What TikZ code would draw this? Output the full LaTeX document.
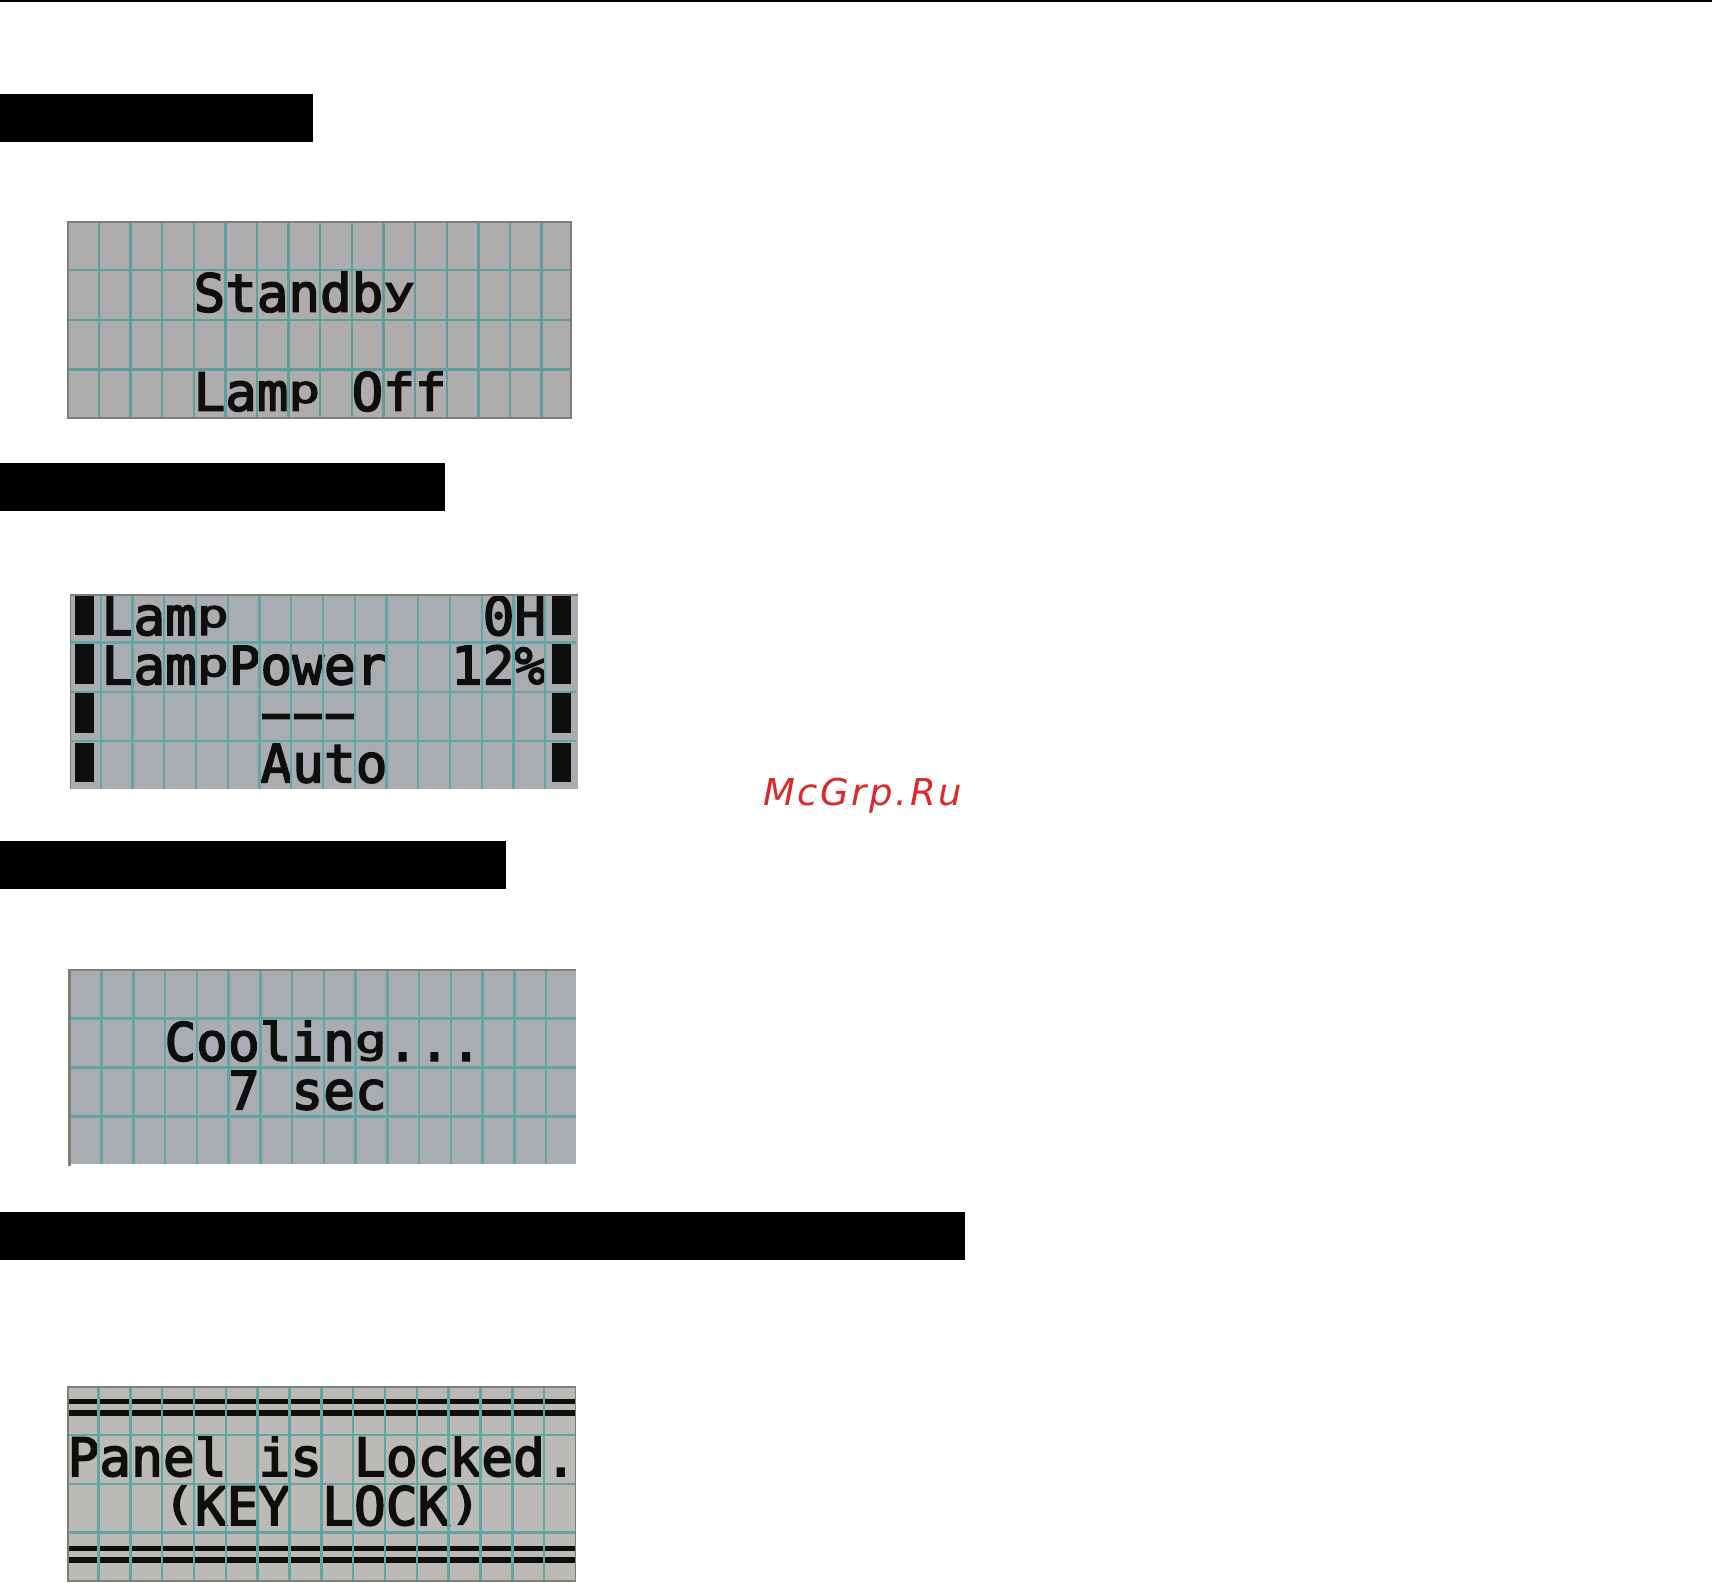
\documentclass[tikz,border=0pt]{standalone}
\usepackage{fontspec}
\usepackage{graphicx}
\newfontfamily\lcdface[FakeBold=3]{DejaVu Sans Mono}
\newfontfamily\markface[LetterSpace=7]{DejaVu Sans Oblique}
\newcommand{\lcdsize}[1]{\lcdface\fontsize{#1pt}{60pt}\selectfont}
% letters that drop below the line sit on it on the display
\newcommand{\dsc}[1]{\raisebox{.15em}{\scalebox{1}[.72]{#1}}}
\newcommand{\prn}[1]{\raisebox{.12em}{\scalebox{1}[.82]{#1}}}
\newcommand{\dashcell}{\makebox[.602em][c]{\scalebox{1.9}[1]{-}}}
\definecolor{teal1}{HTML}{5F9E9B}
\definecolor{teal2}{HTML}{62A6A3}
\definecolor{lcdA}{HTML}{ADADAD}
\definecolor{lcdB}{HTML}{A9ACB1}
\definecolor{lcdC}{HTML}{BBBAB6}
\definecolor{edgeg}{HTML}{7E7E78}
\definecolor{ink}{HTML}{0E0E0C}
\definecolor{markred}{HTML}{D92A2A}
\tikzset{
  bar/.style={fill=black,draw=none},
  gridline/.style={line width=2.4pt,line cap=butt},
  lcd/.style={anchor=base west,inner sep=0pt,outer sep=0pt,text=ink},
  blockcell/.style={fill=ink,draw=none},
  edge/.style={draw=edgeg,line width=1.5pt}
}
\begin{document}
\begin{tikzpicture}[x=1pt,y=-1pt]
\useasboundingbox (0,0) rectangle (1712,1582);
\fill[white] (0,0) rectangle (1712,1582);
% page rule
\fill[bar] (0,0) rectangle (1712,2);
% heading bars
\fill[bar] (0,94) rectangle (313,142);
\fill[bar] (0,463) rectangle (445,511);
\fill[bar] (0,841) rectangle (506,889);
\fill[bar] (0,1211.5) rectangle (965,1259.5);
% ---------- panel 1
\fill[lcdA] (68,222) rectangle (571,418);
\begin{scope}[every node/.style={lcd,font=\lcdsize{52.5}}]
\node (standby) at (193.6,311.7) {Standb\dsc{y}};
\node (lampoff) at (193.6,410.7) {Lam\dsc{p} Off};
\end{scope}
\foreach \i in {1,...,15} \draw[teal1,gridline] ({67.2+\i*31.63},222) -- ({67.2+\i*31.63},418);
\foreach \yy in {270,320,369.5} \draw[teal1,gridline] (68,\yy) -- (571,\yy);
\draw[edge] (68,222) rectangle (571,418);
% ---------- panel 2
\fill[lcdB] (70,595) rectangle (578,789);
\foreach \a/\b in {595.7/635,644.3/684.3,693.3/733.3,742.7/782.3}{
  \fill[blockcell] (75,\a) rectangle (93.7,\b);
  \fill[blockcell] (552.4,\a) rectangle (570.6,\b);
}
\begin{scope}[every node/.style={lcd,font=\lcdsize{52.74}}]
\node (lamp) at (101.7,635) {Lam\dsc{p}};
\node (hours) at (482.7,635) {0H};
\node (lamppower) at (101.7,684.3) {Lam\dsc{p}Power};
\node (percent) at (451,684.3) {12\%};
\node (dashes) at (260.5,731) {\dashcell\dashcell\dashcell};
\node (auto) at (260.5,782.3) {Auto};
\end{scope}
\foreach \i in {1,...,15} \draw[teal2,gridline] ({69+\i*31.75},595) -- ({69+\i*31.75},789);
\foreach \yy in {642.3,691.7,740.7} \draw[teal2,gridline] (70,\yy) -- (576,\yy);
\draw[edgeg,line width=1.5pt] (70.5,789) -- (70.5,595) -- (578,595);
% ---------- panel 3
\fill[lcdB] (68,970) rectangle (576,1164.3);
\begin{scope}[every node/.style={lcd,font=\lcdsize{52.74}}]
\node (cooling) at (164.5,1060.7) {Coolin\dsc{g}...};
\node (seven) at (228,1109.3) {7 sec};
\end{scope}
\foreach \i in {1,...,15} \draw[teal2,gridline] ({69.8+\i*31.75},970) -- ({69.8+\i*31.75},1164.3);
\foreach \yy in {1018.3,1067.3,1116.3} \draw[teal2,gridline] (68,\yy) -- (576,\yy);
\draw[edgeg,line width=1.5pt] (68,970) -- (576,970);
\draw[edgeg,line width=2.5pt] (69.3,969.5) -- (69.3,1165.7);
% ---------- panel 4
\fill[lcdC] (68,1387) rectangle (575.5,1581);
\foreach \a/\b in {1398.7/1404.3,1410.3/1416,1545.7/1551.3,1557.3/1563}
  \fill[blockcell] (68,\a) rectangle (574.5,\b);
\begin{scope}[every node/.style={lcd,font=\lcdsize{52.87}}]
\node (panel) at (67.5,1476) {Panel is Locked.};
\node (keylock) at (163,1525) {\prn{(}KEY LOCK\prn{)}};
\end{scope}
\foreach \i in {1,...,15} \draw[teal2,gridline] ({66.7+\i*31.83},1387) -- ({66.7+\i*31.83},1581);
\foreach \yy in {1435,1483.7,1532.3} \draw[teal2,gridline] (68,\yy) -- (575.5,\yy);
\draw[edge] (68,1387) rectangle (575.5,1581);
% ---------- watermark
\node[anchor=base west,inner sep=0pt,text=markred,font=\markface\fontsize{37pt}{44pt}\selectfont] (mark) at (763,805) {McGrp.Ru};
\end{tikzpicture}
\end{document}
